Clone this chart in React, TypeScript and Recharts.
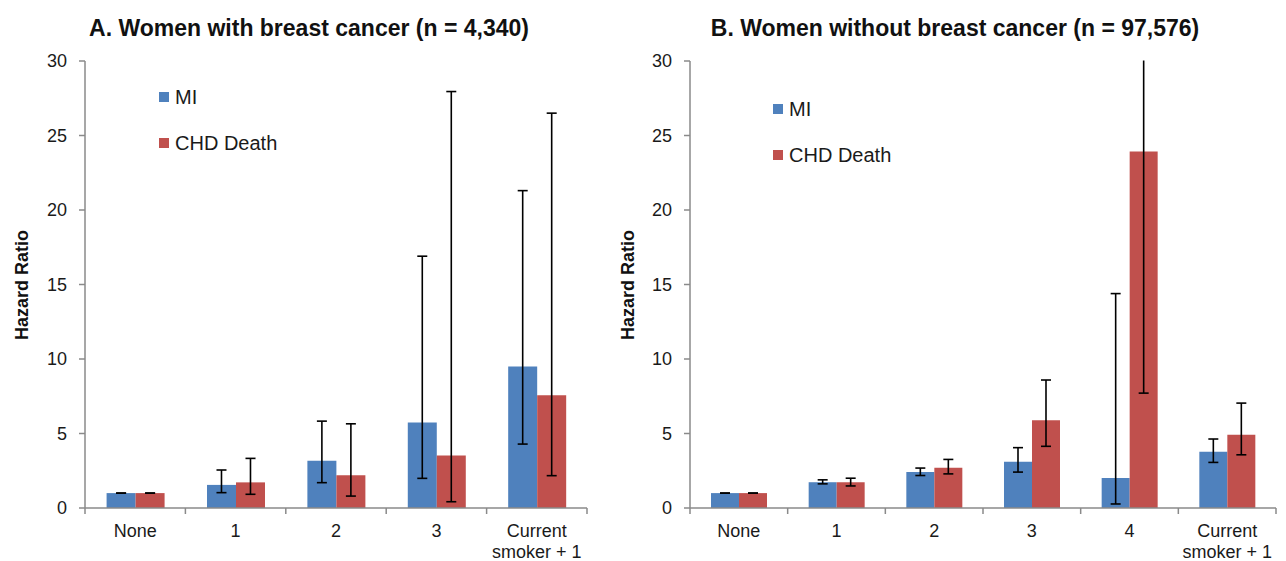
import { Bar, BarChart, ErrorBar, Legend, XAxis, YAxis } from "recharts"

// panel A: women with breast cancer
const categoriesA = ["None", "1", "2", "3", "Current\nsmoker + 1"]
const miA = [1.0, 1.55, 3.17, 5.74, 9.49]
const miLowA = [1.0, 1.03, 1.7, 1.99, 4.29]
const miHighA = [1.0, 2.55, 5.83, 16.9, 21.3]
const chdA = [1.0, 1.72, 2.19, 3.53, 7.57]
const chdLowA = [1.0, 0.92, 0.8, 0.42, 2.17]
const chdHighA = [1.0, 3.33, 5.65, 27.95, 26.5]

// panel B: women without breast cancer
const categoriesB = ["None", "1", "2", "3", "4", "Current\nsmoker + 1"]
const miB = [1.0, 1.73, 2.41, 3.1, 2.02, 3.78]
const miLowB = [1.0, 1.62, 2.18, 2.41, 0.27, 3.06]
const miHighB = [1.0, 1.89, 2.68, 4.05, 14.39, 4.63]
const chdB = [1.0, 1.73, 2.7, 5.89, 23.92, 4.92]
const chdLowB = [1.0, 1.48, 2.29, 4.14, 7.71, 3.57]
const chdHighB = [1.0, 2.0, 3.26, 8.59, 75, 7.04]

const seriesNames = ["MI", "CHD Death"]
const yTicks = [0, 5, 10, 15, 20, 25, 30]

const BLUE = "#4F81BD"
const RED = "#C0504D"
const AXIS = "#8a8a8a"
const FONT = "'Liberation Sans', Arial, sans-serif"

const buildRows = (
  cats: string[], mi: number[], miLo: number[], miHi: number[],
  chd: number[], chdLo: number[], chdHi: number[]
) =>
  cats.map((c, i) => ({
    cat: c,
    mi: mi[i],
    miErr: [mi[i] - miLo[i], miHi[i] - mi[i]],
    chd: chd[i],
    chdErr: [chd[i] - chdLo[i], chdHi[i] - chd[i]],
  }))

const rowsA = buildRows(categoriesA, miA, miLowA, miHighA, chdA, chdLowA, chdHighA)
const rowsB = buildRows(categoriesB, miB, miLowB, miHighB, chdB, chdLowB, chdHighB)

const TICK_GAP = 4

// category label plus Excel-style tick marks on the category boundaries
function CatTick(props: any) {
  const { x, y, payload, index, band, count } = props
  const axisY = y - TICK_GAP
  const lines = String(payload.value).split("\n")
  return (
    <g>
      <line x1={x - band / 2} x2={x - band / 2} y1={axisY} y2={axisY + 6} stroke={AXIS} strokeWidth={1.5} />
      {index === count - 1 && (
        <line x1={x + band / 2} x2={x + band / 2} y1={axisY} y2={axisY + 6} stroke={AXIS} strokeWidth={1.5} />
      )}
      <text x={x} y={axisY + 29} textAnchor="middle" fontSize={18} fill="#1a1a1a" fontFamily={FONT}>
        {lines.map((l, i) => (
          <tspan key={i} x={x} dy={i === 0 ? 0 : 21}>{l}</tspan>
        ))}
      </text>
    </g>
  )
}

function LegendBox(props: any) {
  const items = [...(props.payload || [])].sort(
    (a: any, b: any) => seriesNames.indexOf(a.value) - seriesNames.indexOf(b.value)
  )
  return (
    <div>
      {items.map((p: any) => (
        <div key={p.value} style={{ display: "flex", alignItems: "center", height: 26, marginBottom: 20 }}>
          <span style={{ width: 10, height: 10, background: p.color, marginRight: 6, display: "inline-block" }} />
          <span style={{ fontSize: 20, color: "#1a1a1a", fontFamily: FONT }}>{p.value}</span>
        </div>
      ))}
    </div>
  )
}

function Panel({ rows, width, yWidth, right, legendLeft, legendTop }: any) {
  const plotW = width - yWidth - right
  const band = plotW / rows.length
  return (
    <BarChart
      width={width}
      height={561}
      data={rows}
      margin={{ top: 61, right, bottom: 0, left: 0 }}
      barCategoryGap="21.5%"
      barGap={0}
    >
      <XAxis
        dataKey="cat"
        axisLine={{ stroke: AXIS, strokeWidth: 1.5 }}
        tickLine={false}
        tickSize={0}
        tickMargin={TICK_GAP}
        interval={0}
        height={53}
        tick={<CatTick band={band} count={rows.length} />}
      />
      <YAxis
        width={yWidth}
        domain={[0, 30]}
        ticks={yTicks}
        allowDataOverflow
        axisLine={{ stroke: AXIS, strokeWidth: 1.5 }}
        tickLine={{ stroke: AXIS, strokeWidth: 1.5 }}
        tickSize={6}
        tickMargin={12}
        tick={{ fill: "#1a1a1a", fontSize: 18, fontFamily: FONT }}
      />
      <Legend
        layout="vertical"
        align="center"
        verticalAlign="middle"
        content={<LegendBox />}
        wrapperStyle={{ left: legendLeft, top: legendTop, width: 160 }}
      />
      <Bar dataKey="mi" name="MI" fill={BLUE} isAnimationActive={false}>
        <ErrorBar dataKey="miErr" width={5} stroke="#000" strokeWidth={1.6} isAnimationActive={false} />
      </Bar>
      <Bar dataKey="chd" name="CHD Death" fill={RED} isAnimationActive={false}>
        <ErrorBar dataKey="chdErr" width={5} stroke="#000" strokeWidth={1.6} isAnimationActive={false} />
      </Bar>
    </BarChart>
  )
}

export default function App() {
  return (
    <div style={{ position: "absolute", left: 0, top: 0, width: 1286, height: 561, background: "#fff", overflow: "hidden" }}>
      <div style={{ position: "absolute", left: 0, top: 0 }}>
        <Panel rows={rowsA} width={640} yWidth={85} right={53} legendLeft={159} legendTop={84} />
      </div>
      <div style={{ position: "absolute", left: 600, top: 0 }}>
        <Panel rows={rowsB} width={686} yWidth={90} right={10} legendLeft={173} legendTop={96} />
      </div>
      <svg width={1286} height={561} style={{ position: "absolute", left: 0, top: 0, pointerEvents: "none" }}>
        {/* hide the part of panel B's open-ended interval above the axis top */}
        <rect x={692} y={0} width={594} height={60.5} fill="#fff" />
        <text x={309} y={36} textAnchor="middle" fontSize={23} fontWeight="bold" fill="#111" fontFamily={FONT}>
          A. Women with breast cancer (n = 4,340)
        </text>
        <text x={955} y={36} textAnchor="middle" fontSize={23} fontWeight="bold" fill="#111" fontFamily={FONT}>
          B. Women without breast cancer (n = 97,576)
        </text>
        <text transform="translate(28,285) rotate(-90)" textAnchor="middle" fontSize={18} fontWeight="bold" fill="#111" fontFamily={FONT}>
          Hazard Ratio
        </text>
        <text transform="translate(634,285) rotate(-90)" textAnchor="middle" fontSize={18} fontWeight="bold" fill="#111" fontFamily={FONT}>
          Hazard Ratio
        </text>
      </svg>
    </div>
  )
}
